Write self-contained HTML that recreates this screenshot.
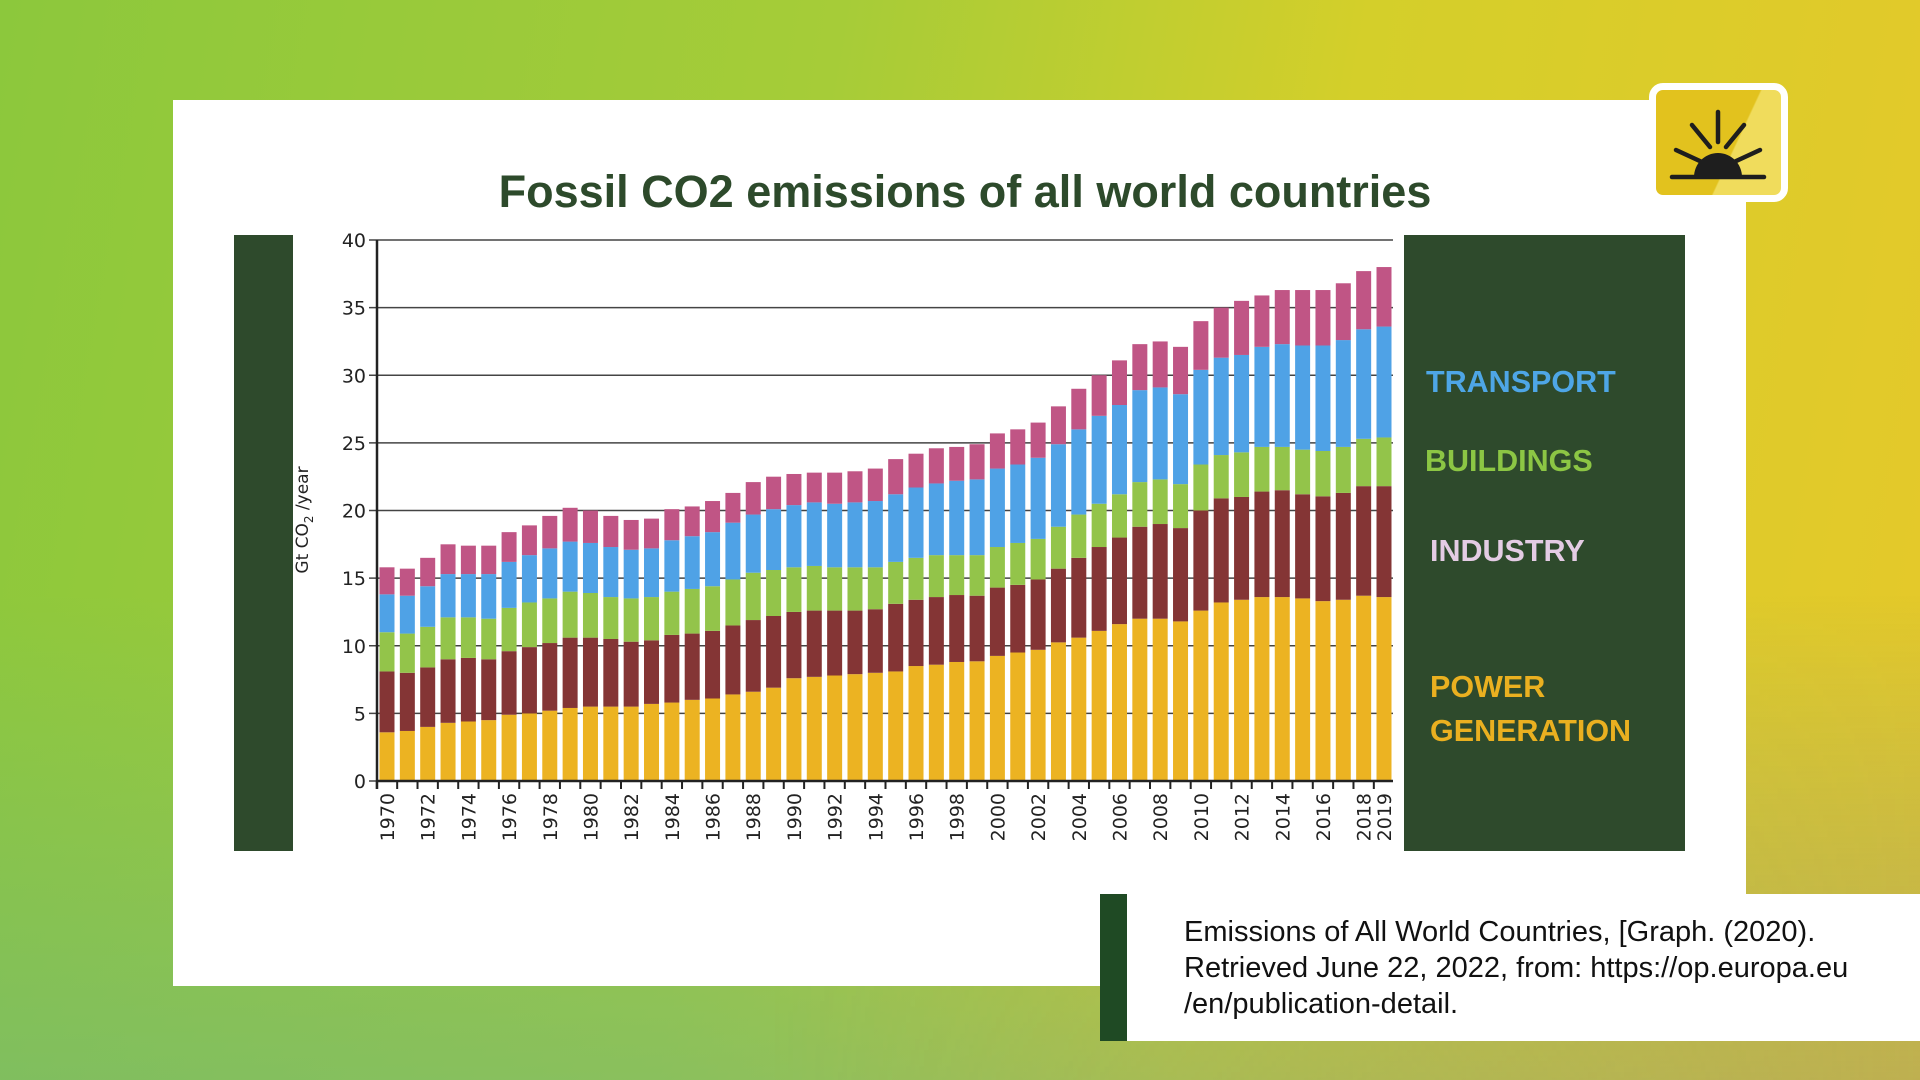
<!DOCTYPE html>
<html><head><meta charset="utf-8"><style>
html,body{margin:0;padding:0;width:1920px;height:1080px;overflow:hidden}
body{position:relative;font-family:"Liberation Sans","DejaVu Sans",sans-serif;
background:linear-gradient(100deg,#8cc83c 0%,#a6cc38 40%,#d4cf2a 65%,#e6c82a 100%)}
.abs{position:absolute}
</style></head><body>
<div class="abs" style="left:0;top:0;width:1920px;height:1080px;background:linear-gradient(180deg,rgba(0,0,0,0) 55%,rgba(120,185,120,.0) 55%,rgba(110,180,130,.5) 100%);"></div>
<div class="abs" style="left:0;top:0;width:1920px;height:1080px;background:linear-gradient(180deg,rgba(0,0,0,0) 55%,rgba(230,150,70,.0) 55%,rgba(230,150,70,.35) 100%);-webkit-mask-image:linear-gradient(90deg,transparent 40%,#000 100%);mask-image:linear-gradient(90deg,transparent 40%,#000 100%);"></div>
<div class="abs" style="left:173px;top:100px;width:1573px;height:886px;background:#fff;"></div>
<div class="abs" style="left:173px;top:166px;width:1584px;text-align:center;font-size:45px;font-weight:bold;color:#2d4a2b;">Fossil CO2 emissions of all world countries</div>
<div class="abs" style="left:234px;top:235px;width:59px;height:616px;background:#2e4a2c;"></div>
<div class="abs" style="left:1404px;top:235px;width:281px;height:616px;background:#2e4a2c;"></div>
<div class="abs" style="left:1426px;top:365px;font-size:30.5px;font-weight:bold;color:#4ea6e6;">TRANSPORT</div>
<div class="abs" style="left:1425px;top:444px;font-size:30.5px;font-weight:bold;color:#8cc644;">BUILDINGS</div>
<div class="abs" style="left:1430px;top:534px;font-size:30.5px;font-weight:bold;color:#e4cce4;">INDUSTRY</div>
<div class="abs" style="left:1430px;top:665px;font-size:30.5px;font-weight:bold;color:#eab020;line-height:44px;">POWER<br>GENERATION</div>
<svg class="abs" id="chart" style="left:0;top:0" width="1920" height="1080"></svg>
<div class="abs" style="left:1649px;top:83px;width:139px;height:119px;box-sizing:border-box;border:7px solid #fff;border-radius:14px;background:linear-gradient(115deg,#e2c21e 60%,#f0dc5c 61%);">
<svg width="125" height="105" viewBox="0 0 125 105">
<g stroke="#1e1e1e" stroke-width="4.5" stroke-linecap="round">
<line x1="62" y1="22" x2="62" y2="52"/><line x1="36" y1="35" x2="54" y2="57"/><line x1="88" y1="35" x2="70" y2="57"/>
<line x1="20" y1="60" x2="46" y2="72"/><line x1="104" y1="60" x2="78" y2="72"/><line x1="16" y1="87" x2="108" y2="87"/></g>
<path d="M38 87 A24 24 0 0 1 86 87 Z" fill="#1e1e1e"/></svg></div>
<div class="abs" style="left:1100px;top:894px;width:820px;height:147px;background:#fff;"></div>
<div class="abs" style="left:1100px;top:894px;width:27px;height:147px;background:#1f4a24;"></div>
<div class="abs" style="left:1184px;top:914px;font-size:29px;line-height:36px;color:#111;">Emissions of All World Countries, [Graph. (2020).<br>Retrieved June 22, 2022, from: https://op.europa.eu<br>/en/publication-detail.</div>
<script>
const years=[1970,1971,1972,1973,1974,1975,1976,1977,1978,1979,1980,1981,1982,1983,1984,1985,1986,1987,1988,1989,1990,1991,1992,1993,1994,1995,1996,1997,1998,1999,2000,2001,2002,2003,2004,2005,2006,2007,2008,2009,2010,2011,2012,2013,2014,2015,2016,2017,2018,2019];
const powerTop=[3.6,3.7,4.0,4.3,4.4,4.5,4.9,5.0,5.2,5.4,5.5,5.5,5.5,5.7,5.8,6.0,6.1,6.4,6.6,6.9,7.6,7.7,7.8,7.9,8.0,8.1,8.5,8.6,8.8,8.85,9.25,9.5,9.7,10.25,10.6,11.1,11.6,12.0,12.0,11.8,12.6,13.2,13.4,13.6,13.6,13.5,13.3,13.4,13.7,13.6];
const industryTop=[8.1,8.0,8.4,9.0,9.1,9.0,9.6,9.9,10.2,10.6,10.6,10.5,10.3,10.4,10.8,10.9,11.1,11.5,11.9,12.2,12.5,12.6,12.6,12.6,12.7,13.1,13.4,13.6,13.75,13.7,14.3,14.5,14.9,15.7,16.5,17.3,18.0,18.8,19.0,18.7,20.0,20.9,21.0,21.4,21.5,21.2,21.05,21.3,21.8,21.8];
const buildingsTop=[11.0,10.9,11.4,12.1,12.1,12.0,12.8,13.2,13.5,14.0,13.9,13.6,13.5,13.6,14.0,14.2,14.4,14.9,15.4,15.6,15.8,15.9,15.8,15.8,15.8,16.2,16.5,16.7,16.7,16.7,17.3,17.6,17.9,18.8,19.7,20.5,21.2,22.1,22.3,21.95,23.4,24.1,24.3,24.7,24.7,24.5,24.4,24.7,25.3,25.4];
const transportTop=[13.8,13.7,14.4,15.3,15.3,15.3,16.2,16.7,17.2,17.7,17.6,17.3,17.1,17.2,17.8,18.1,18.4,19.1,19.7,20.1,20.4,20.6,20.5,20.6,20.7,21.2,21.7,22.0,22.2,22.3,23.1,23.4,23.9,24.9,26.0,27.0,27.8,28.9,29.1,28.6,30.4,31.3,31.5,32.1,32.3,32.2,32.2,32.6,33.4,33.6];
const totalTop=[15.8,15.7,16.5,17.5,17.4,17.4,18.4,18.9,19.6,20.2,20.0,19.6,19.3,19.4,20.1,20.3,20.7,21.3,22.1,22.5,22.7,22.8,22.8,22.9,23.1,23.8,24.2,24.6,24.7,24.9,25.7,26.0,26.5,27.7,29.0,30.0,31.1,32.3,32.5,32.1,34.0,35.0,35.5,35.9,36.3,36.3,36.3,36.8,37.7,38.0];
const yTicks=[0,5,10,15,20,25,30,35,40];
const svg=document.getElementById('chart');
const NS='http://www.w3.org/2000/svg';
const x0=377,x1=1393,yBase=781,yTopPx=240,yMax=40;
const y=v=>yBase-(v/yMax)*(yBase-yTopPx);
const step=(1384-387)/(years.length-1);
const xc=i=>387+i*step;
const bw=15;
function mk(t,a){const e=document.createElementNS(NS,t);for(const k in a)e.setAttribute(k,a[k]);svg.appendChild(e);return e;}
yTicks.forEach(v=>{
  const g=mk('line',{x1:x0-8,x2:x1,y1:y(v),y2:y(v),stroke:'#444','stroke-width':1.5});
  
  
  const t=mk('text',{x:x0-11,y:y(v)+7,'text-anchor':'end','font-size':19,fill:'#222','font-family':'DejaVu Sans, sans-serif'});
  t.textContent=v;
  
  
});
const layers=[[null,powerTop,'#ecb322','power'],[powerTop,industryTop,'#843535','industry'],[industryTop,buildingsTop,'#93c44a','buildings'],[buildingsTop,transportTop,'#4fa2e6','transport'],[transportTop,totalTop,'#c05585','other']];
years.forEach((yr,i)=>{
  layers.forEach(([lo,hi,c,n])=>{
    const b=lo?lo[i]:0;
    const r=mk('rect',{x:xc(i)-bw/2,y:y(hi[i]),width:bw,height:y(b)-y(hi[i]),fill:c});
    
    
  });
  const tk=mk('line',{x1:xc(i)-step/2,x2:xc(i)-step/2,y1:yBase,y2:yBase+8,stroke:'#222','stroke-width':2});
  
  
  if(yr%2===0||yr===2019){
    const t=mk('text',{transform:`translate(${xc(i)+7},${yBase+12}) rotate(-90)`,'text-anchor':'end','font-size':19,fill:'#222','font-family':'DejaVu Sans, sans-serif'});
    t.textContent=yr;
    
    
  }
});
const ax=mk('line',{x1:x0,x2:x0,y1:yTopPx,y2:yBase+8,stroke:'#222','stroke-width':2.5});


const bx=mk('line',{x1:x0,x2:x1,y1:yBase,y2:yBase,stroke:'#222','stroke-width':2.5});


const yt=mk('text',{transform:'translate(308,520) rotate(-90)','text-anchor':'middle','font-size':17,fill:'#222','font-family':'DejaVu Sans, sans-serif'});
yt.innerHTML='Gt CO<tspan font-size="12" dy="5">2</tspan><tspan dy="-5"> /year</tspan>';


</script>
</body></html>
